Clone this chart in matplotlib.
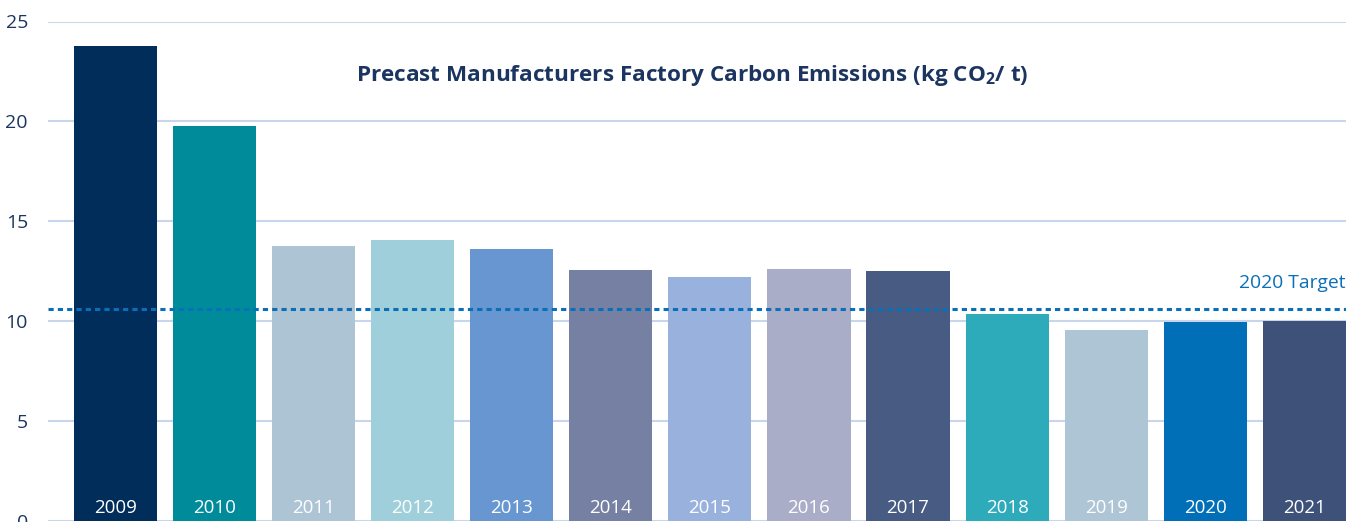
import matplotlib
matplotlib.use("Agg")
import matplotlib.pyplot as plt
import numpy as np

plt.rcParams['font.family'] = ['Open Sans', 'DejaVu Sans']
plt.rcParams['mathtext.fontset'] = 'custom'
plt.rcParams['mathtext.rm'] = 'Open Sans'
plt.rcParams['mathtext.bf'] = 'Open Sans:bold'

# data
years = ['2009', '2010', '2011', '2012', '2013', '2014', '2015',
         '2016', '2017', '2018', '2019', '2020', '2021']
emissions = [23.78, 19.77, 13.76, 14.06, 13.61, 12.56, 12.21,
             12.61, 12.51, 10.36, 9.55, 9.95, 10.02]
target = 10.61
target_label = '2020 Target'
yticks = [0, 5, 10, 15, 20, 25]
bar_colors = ['#012d5a', '#008b9b', '#adc4d4', '#9fcfda', '#6896d0', '#7680a3',
              '#98b2dd', '#a9adc8', '#475b83', '#2eabbb', '#aec5d5', '#006fb8',
              '#3d5179']

navy = '#1b3560'
W, H = 1359, 522
fig = plt.figure(figsize=(W / 100, H / 100), dpi=100)
# axis area in pixels: x 48..1346, y (from top) 21.5..521
ax = fig.add_axes([48 / W, (H - 521) / H, (1346 - 48) / W, (521 - 21.5) / H])

x = np.arange(len(years))
ax.bar(x, emissions, width=0.84, color=bar_colors, zorder=2)

for xi, yr in zip(x, years):
    ax.text(xi, 0.64, yr, color='white', fontsize=13.5, ha='center', va='center', zorder=3)

ax.axhline(target, color='#0a6fb9', lw=2.2, linestyle=(0, (1.7, 1.35)), zorder=4)
ax.text(1.0, target + 1.3, target_label, transform=ax.get_yaxis_transform(),
        color='#0a6fb9', fontsize=13.9, ha='right', va='center')

ax.set_xlim(-0.68, 12.42)
ax.set_ylim(0, 25)
ax.set_yticks(yticks)
ax.set_xticks([])
ax.yaxis.grid(True, color='#c9d5eb', lw=1.5, zorder=0)
ax.set_axisbelow(True)
for s in ax.spines.values():
    s.set_visible(False)
ax.tick_params(axis='y', length=0, pad=14.4, labelsize=14, labelcolor=navy)

fig.text(692 / W, 1 - 75 / H,
         r'Precast Manufacturers Factory Carbon Emissions (kg CO$_\mathbf{2}$/ t)',
         fontsize=16.2, fontweight='bold', color=navy, ha='center', va='center')

fig.savefig('out.png', dpi=100)
